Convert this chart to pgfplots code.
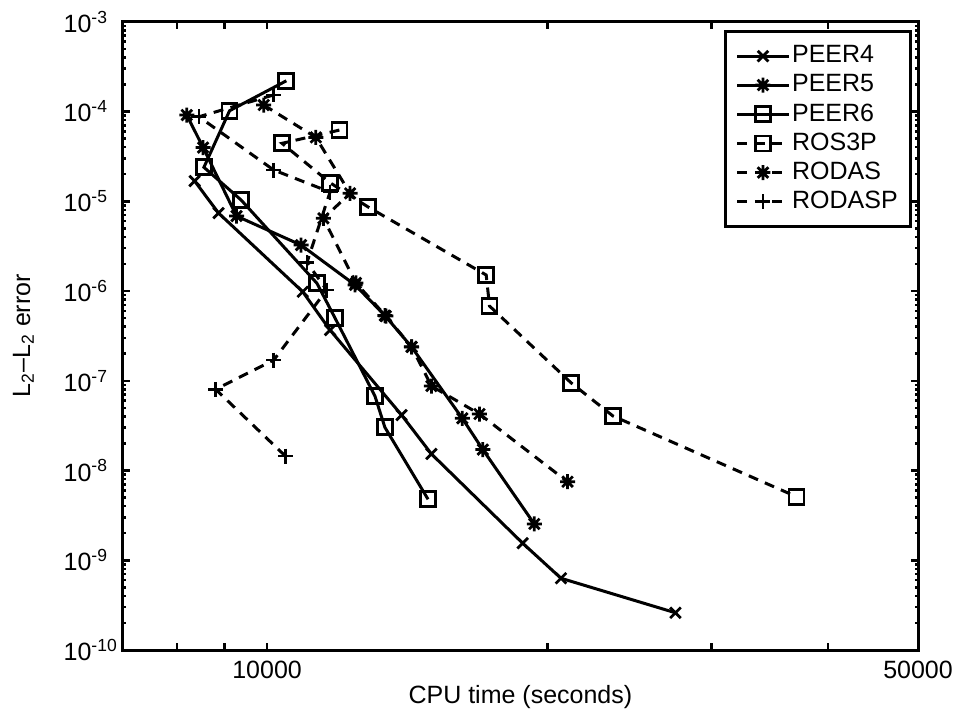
\documentclass[border=0pt]{standalone}
\usepackage{fontspec}
\setmainfont{Liberation Sans}
\usepackage{pgfplots}
\pgfplotsset{compat=1.18}
\pgfdeclareplotmark{mstar}{%
  \pgfpathmoveto{\pgfqpoint{-\pgfplotmarksize}{0pt}}\pgfpathlineto{\pgfqpoint{\pgfplotmarksize}{0pt}}%
  \pgfpathmoveto{\pgfqpoint{0pt}{-\pgfplotmarksize}}\pgfpathlineto{\pgfqpoint{0pt}{\pgfplotmarksize}}%
  \pgfpathmoveto{\pgfqpoint{-0.707\pgfplotmarksize}{-0.707\pgfplotmarksize}}\pgfpathlineto{\pgfqpoint{0.707\pgfplotmarksize}{0.707\pgfplotmarksize}}%
  \pgfpathmoveto{\pgfqpoint{-0.707\pgfplotmarksize}{0.707\pgfplotmarksize}}\pgfpathlineto{\pgfqpoint{0.707\pgfplotmarksize}{-0.707\pgfplotmarksize}}%
  \pgfusepathqstroke}
\begin{document}
\begin{tikzpicture}
\begin{axis}[
  scale only axis, width=318.1pt, height=251.3pt,
  xmode=log, ymode=log,
  xmin=7000, xmax=50000, ymin=1e-10, ymax=1e-3,
  xtick={8000,9000,10000,20000,30000,40000,50000},
  xticklabels={,,10000,,,,50000},
  ytick={1e-10,1e-9,1e-8,1e-7,1e-6,1e-5,1e-4,1e-3},
  yticklabels={10\rlap{\textsuperscript{-10}},10\rlap{\textsuperscript{-9}},10\rlap{\textsuperscript{-8}},10\rlap{\textsuperscript{-7}},10\rlap{\textsuperscript{-6}},10\rlap{\textsuperscript{-5}},10\rlap{\textsuperscript{-4}},10\rlap{\textsuperscript{-3}}},
  minor ytick={2e-10,3e-10,4e-10,5e-10,6e-10,7e-10,8e-10,9e-10,
    2e-9,3e-9,4e-9,5e-9,6e-9,7e-9,8e-9,9e-9,
    2e-8,3e-8,4e-8,5e-8,6e-8,7e-8,8e-8,9e-8,
    2e-7,3e-7,4e-7,5e-7,6e-7,7e-7,8e-7,9e-7,
    2e-6,3e-6,4e-6,5e-6,6e-6,7e-6,8e-6,9e-6,
    2e-5,3e-5,4e-5,5e-5,6e-5,7e-5,8e-5,9e-5,
    2e-4,3e-4,4e-4,5e-4,6e-4,7e-4,8e-4,9e-4},
  xminorticks=false,
  tick align=inside,
  major tick length=2.8pt, minor tick length=1.4pt,
  every tick/.style={black, line width=1pt},
  axis line style={line width=1.2pt},
  yticklabel style={anchor=east, xshift=-9pt},
  xticklabel style={yshift=-1pt},
  xlabel={CPU time (seconds)},
  ylabel={L\textsubscript{2}--L\textsubscript{2} error},
  xlabel style={at={(axis description cs:0.5,-0.075)}, anchor=center},
  ylabel style={at={(axis description cs:-0.125,0.5)}, anchor=center},
  legend cell align=left,
  legend style={at={(0.992,0.987)}, anchor=north east, draw=black, line width=1.2pt,
     inner xsep=4.2pt, inner ysep=4.2pt, row sep=0.2pt,
     nodes={inner xsep=0.8pt, inner ysep=1.5pt}},
  legend image code/.code={\draw[mark repeat=2,mark phase=2] plot coordinates {(0cm,0cm) (0.36cm,0cm) (0.72cm,0cm)};},
  every axis plot/.append style={black, line width=1.2pt, mark size=3pt, mark options={solid, line width=1.1pt}},
]
\addplot[mark=x] coordinates {(8360,1.68e-5) (8869,7.39e-6) (10922,9.8e-7) (11685,3.67e-7) (13945,4.15e-8) (15013,1.53e-8) (18813,1.55e-9) (20681,6.3e-10) (27447,2.6e-10)};
\addlegendentry{PEER4}
\addplot[mark=mstar] coordinates {(8199,9.13e-5) (8537,3.97e-5) (9272,6.84e-6) (10876,3.25e-6) (12428,1.17e-6) (13381,5.33e-7) (14291,2.39e-7) (16204,3.81e-8) (17048,1.71e-8) (19364,2.54e-9)};
\addlegendentry{PEER5}
\addplot[mark=square] coordinates {(10488,2.2e-4) (9114,1.02e-4) (8554,2.39e-5) (9380,1.03e-5) (11311,1.22e-6) (11834,4.96e-7) (13056,6.76e-8) (13381,3.03e-8) (14888,4.78e-9)};
\addlegendentry{PEER6}
\addplot[mark=square, dash pattern=on 4pt off 3pt] coordinates {(11957,6.21e-5) (10376,4.42e-5) (11685,1.608e-5) (12841,8.62e-6) (17191,1.507e-6) (17333,6.8e-7) (21197,9.51e-8) (23516,4.05e-8) (37035,5.1e-9)};
\addlegendentry{ROS3P}
\addplot[mark=mstar, dash pattern=on 4pt off 3pt] coordinates {(9917,1.18e-4) (11281,5.15e-5) (12278,1.225e-5) (11495,6.45e-6) (12456,1.23e-6) (13414,5.26e-7) (14298,2.38e-7) (15013,8.74e-8) (16908,4.26e-8) (21020,7.5e-9)};
\addlegendentry{RODAS}
\addplot[mark=+, dash pattern=on 4pt off 3pt] coordinates {(10164,1.53e-4) (8449,8.74e-5) (10164,2.23e-5) (11685,1.267e-5) (11036,2.08e-6) (11589,1.026e-6) (10164,1.7e-7) (8806,8.03e-8) (10461,1.45e-8)};
\addlegendentry{RODASP}
\end{axis}
\pgfresetboundingbox
\path (-49.1pt,-26.8pt) rectangle (334.9pt,260.0pt);
\end{tikzpicture}
\end{document}
